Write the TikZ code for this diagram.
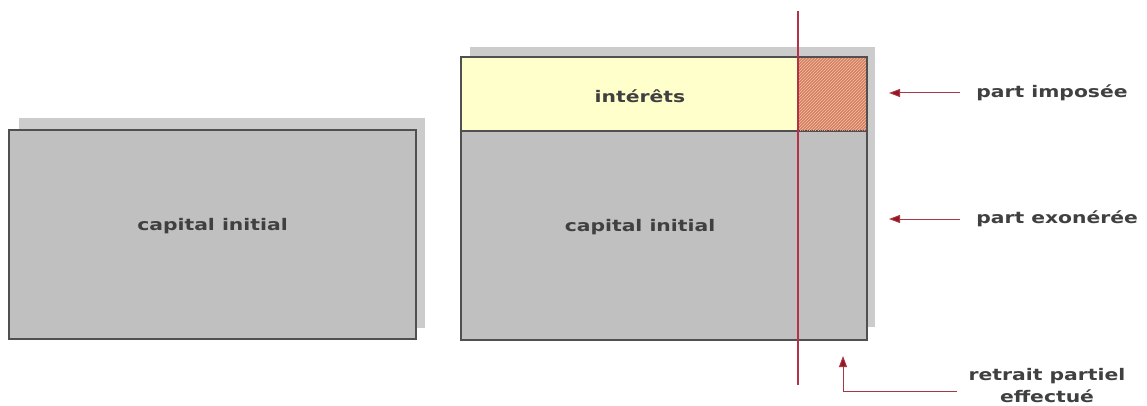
\documentclass[tikz,border=0pt]{standalone}
\usepackage{fontspec}
\setmainfont{DejaVu Sans}
\usetikzlibrary{patterns,arrows.meta}
\definecolor{boxgray}{RGB}{192,192,192}
\definecolor{shadowgray}{RGB}{204,204,204}
\definecolor{edgegray}{RGB}{80,80,80}
\definecolor{interest}{RGB}{255,255,204}
\definecolor{taxed}{RGB}{214,128,96}
\definecolor{stripe}{RGB}{240,190,170}
\definecolor{cutline}{RGB}{180,50,70}
\definecolor{arrowred}{RGB}{150,20,35}
\definecolor{labelgray}{RGB}{64,64,64}
\tikzset{
  mainbox/.style={fill=boxgray, draw=edgegray, line width=1.6pt},
  boxtext/.style={font=\bfseries\fontsize{16}{18}\selectfont, text=labelgray, xscale=1.27, inner sep=0pt},
  pointer/.style={draw=arrowred!85, line width=1pt, -{Triangle[length=11pt,width=8pt,fill=arrowred]}},
}
\begin{document}
\begin{tikzpicture}[x=1pt,y=-1pt]
\useasboundingbox (0,0) rectangle (1147,406);

% left block: initial capital
\fill[shadowgray] (19,118) rectangle (425,328);
\draw[mainbox] (9,130) rectangle (416,339);
\node[boxtext] (capA) at (212.5,226) {capital initial};

% right block: capital plus interest
\fill[shadowgray] (470,47) rectangle (875,327);
\draw[mainbox] (461,131) rectangle (867,340);
\draw[fill=interest, draw=edgegray, line width=1.6pt] (461,57) rectangle (867,131);
\fill[taxed] (798,57) rectangle (867,131);
\fill[pattern=north east lines, pattern color=stripe] (798,57) rectangle (867,131);
\draw[edgegray, line width=1.2pt, densely dotted] (798,57) rectangle (867,131);
\draw[edgegray, line width=1.6pt] (798,57) -- (867,57) -- (867,131);
\node[boxtext] (int) at (640,96) {intérêts};
\node[boxtext] (capB) at (640,227) {capital initial};

% withdrawal cut line
\coordinate (cutTop) at (798,11);
\coordinate (cutBot) at (798,385);
\draw[cutline, line width=1.1pt] (cutTop) -- (cutBot);

% side labels
\node[boxtext, anchor=west] (imp) at (976,93) {part imposée};
\node[boxtext, anchor=west] (exo) at (976,219) {part exonérée};
\node[boxtext, align=center] (ret) at (1047,386) {retrait partiel\\[4pt]effectué};

\coordinate (impTip) at (889,93);
\coordinate (impEnd) at (960,93);
\coordinate (exoTip) at (889,219);
\coordinate (exoEnd) at (960,219);
\coordinate (retEnd) at (957,391);
\coordinate (retTip) at (843,356);
\draw[pointer] (impEnd) -- (impTip);
\draw[pointer] (exoEnd) -- (exoTip);
\draw[pointer] (retEnd) -| (retTip);
\end{tikzpicture}
\end{document}
